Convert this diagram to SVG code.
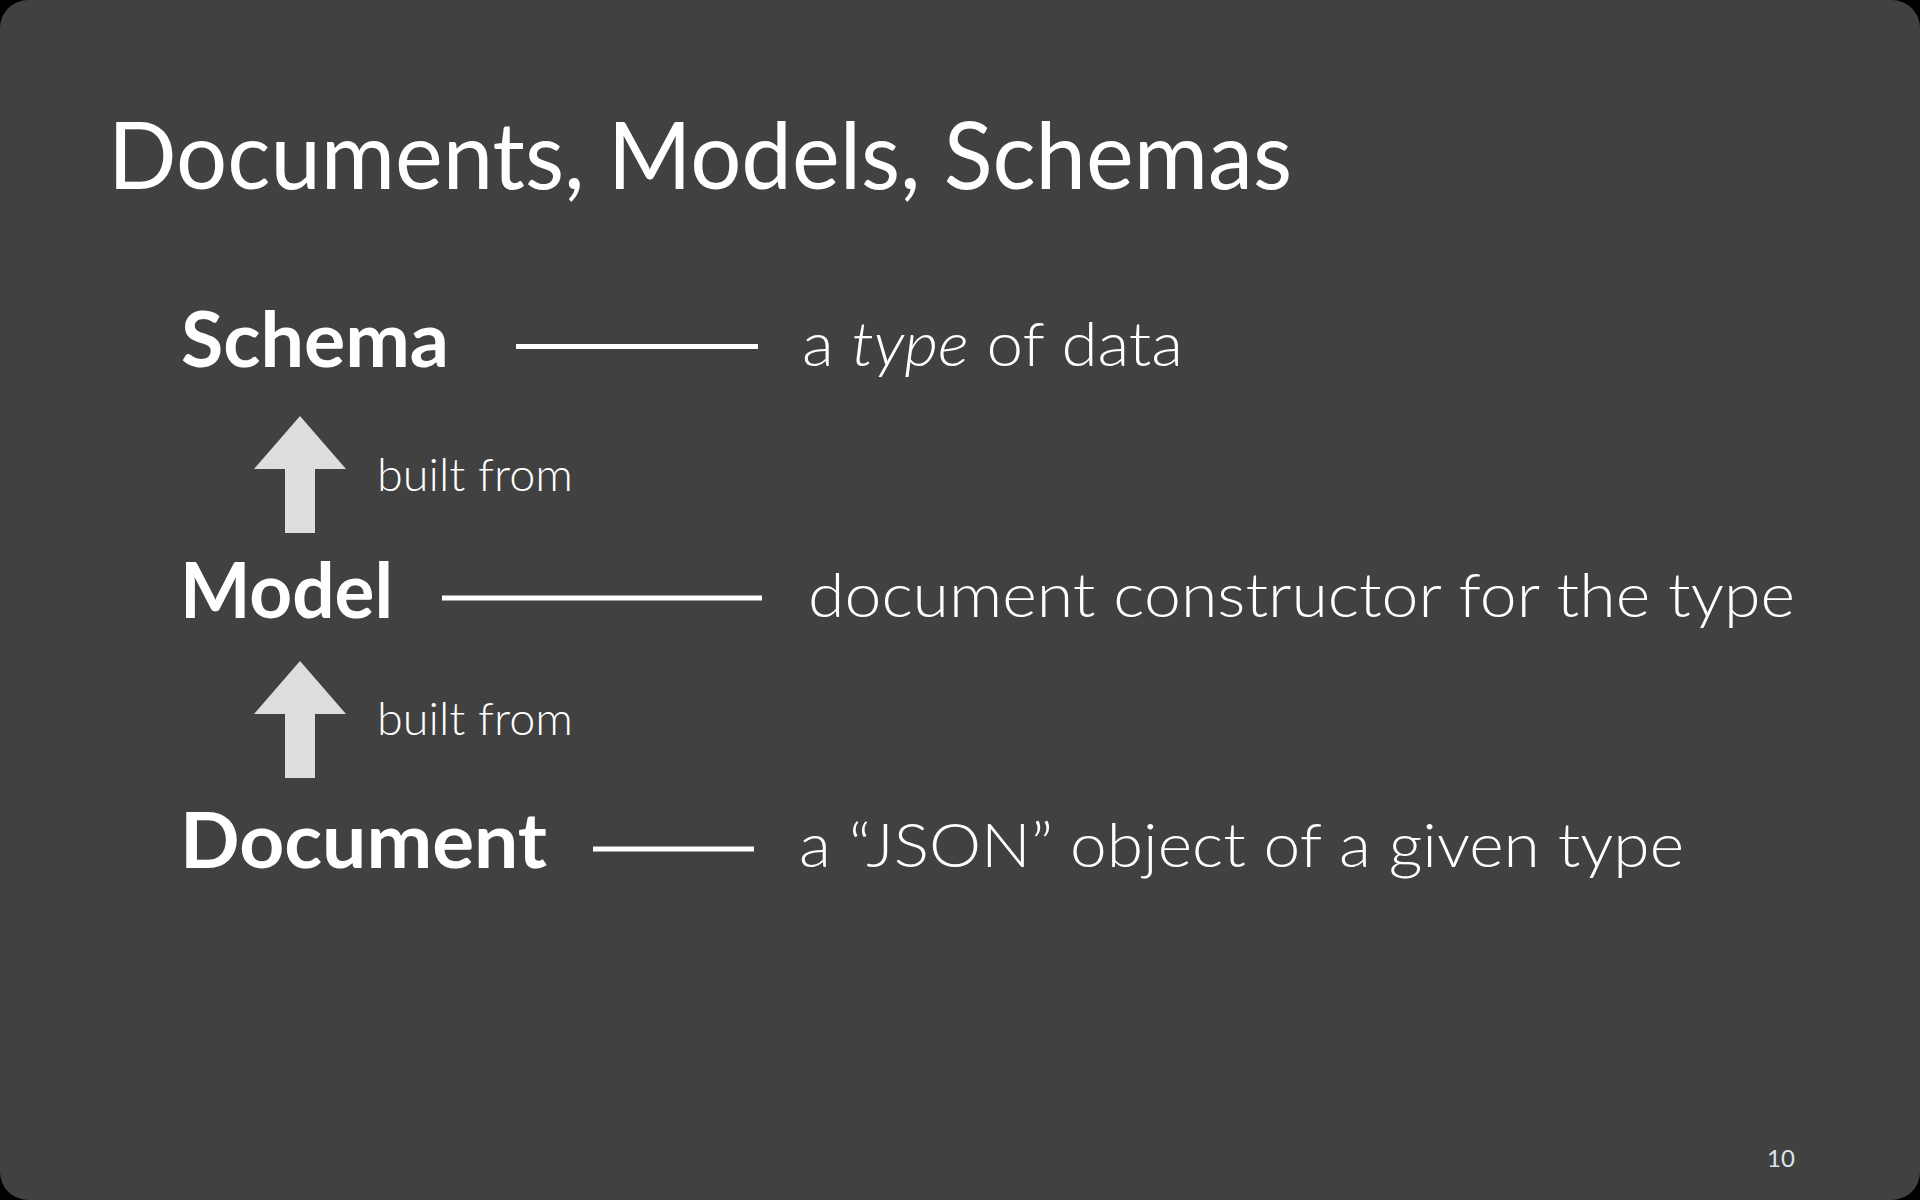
<svg xmlns="http://www.w3.org/2000/svg" width="1920" height="1200" viewBox="0 0 1920 1200">
  <style>
    .title { font-family: "Lato", "Open Sans", "Liberation Sans", sans-serif; font-size: 94px; font-weight: 400; fill: #ffffff; }
    .term { font-family: "Lato", "Open Sans", "Liberation Sans", sans-serif; font-size: 76px; font-weight: 700; fill: #ffffff; }
    .desc { font-family: "Lato", "Open Sans", "Liberation Sans", sans-serif; font-size: 62px; font-weight: 300; fill: #ffffff; }
    .edge-label { font-family: "Lato", "Open Sans", "Liberation Sans", sans-serif; font-size: 46px; font-weight: 300; fill: #ffffff; }
    .pageno { font-family: "Lato", "Open Sans", "Liberation Sans", sans-serif; font-size: 24px; font-weight: 400; fill: #dde6ee; }
    .rule { fill: #ffffff; }
    .up-arrow { fill: #dcdddf; }
  </style>
  <defs>
    <!-- block arrow pointing up, tip at (0,0) -->
    <path id="uparrow" d="M0,0 L46,53 L15,53 L15,117 L-15,117 L-15,53 L-46,53 Z"/>
  </defs>

  <!-- slide frame -->
  <rect x="0" y="0" width="1920" height="1200" fill="#000000"/>
  <rect x="0" y="0" width="1920" height="1200" rx="28" ry="28" fill="#414141"/>

  <text class="title" x="108" y="189" textLength="1184" lengthAdjust="spacingAndGlyphs">Documents, Models, Schemas</text>

  <g id="node-schema">
    <text class="term" x="181" y="367" textLength="268" lengthAdjust="spacingAndGlyphs">Schema</text>
    <text class="desc" x="802" y="366" textLength="381" lengthAdjust="spacingAndGlyphs">a <tspan font-style="italic">type</tspan> of data</text>
  </g>

  <g id="node-model">
    <text class="term" x="180" y="618" textLength="213" lengthAdjust="spacingAndGlyphs">Model</text>
    <text class="desc" x="808" y="617" textLength="987" lengthAdjust="spacingAndGlyphs">document constructor for the type</text>
  </g>

  <g id="node-document">
    <text class="term" x="180" y="868" textLength="367" lengthAdjust="spacingAndGlyphs">Document</text>
    <text class="desc" x="799" y="867" textLength="885" lengthAdjust="spacingAndGlyphs">a “JSON” object of a given type</text>
  </g>

  <g id="connectors">
    <!-- term-to-description rules -->
    <rect class="rule" x="516" y="344" width="242" height="5"/>
    <rect class="rule" x="442" y="595.5" width="320" height="5"/>
    <rect class="rule" x="593" y="846.5" width="161" height="5"/>

    <!-- "built from" arrows -->
    <g id="edge-model-schema">
      <use href="#uparrow" class="up-arrow" x="300" y="416"/>
      <text class="edge-label" x="377" y="491" textLength="196" lengthAdjust="spacingAndGlyphs">built from</text>
    </g>
    <g id="edge-document-model">
      <use href="#uparrow" class="up-arrow" x="300" y="661"/>
      <text class="edge-label" x="377" y="735" textLength="196" lengthAdjust="spacingAndGlyphs">built from</text>
    </g>
  </g>

  <text class="pageno" x="1767" y="1167">10</text>
</svg>
